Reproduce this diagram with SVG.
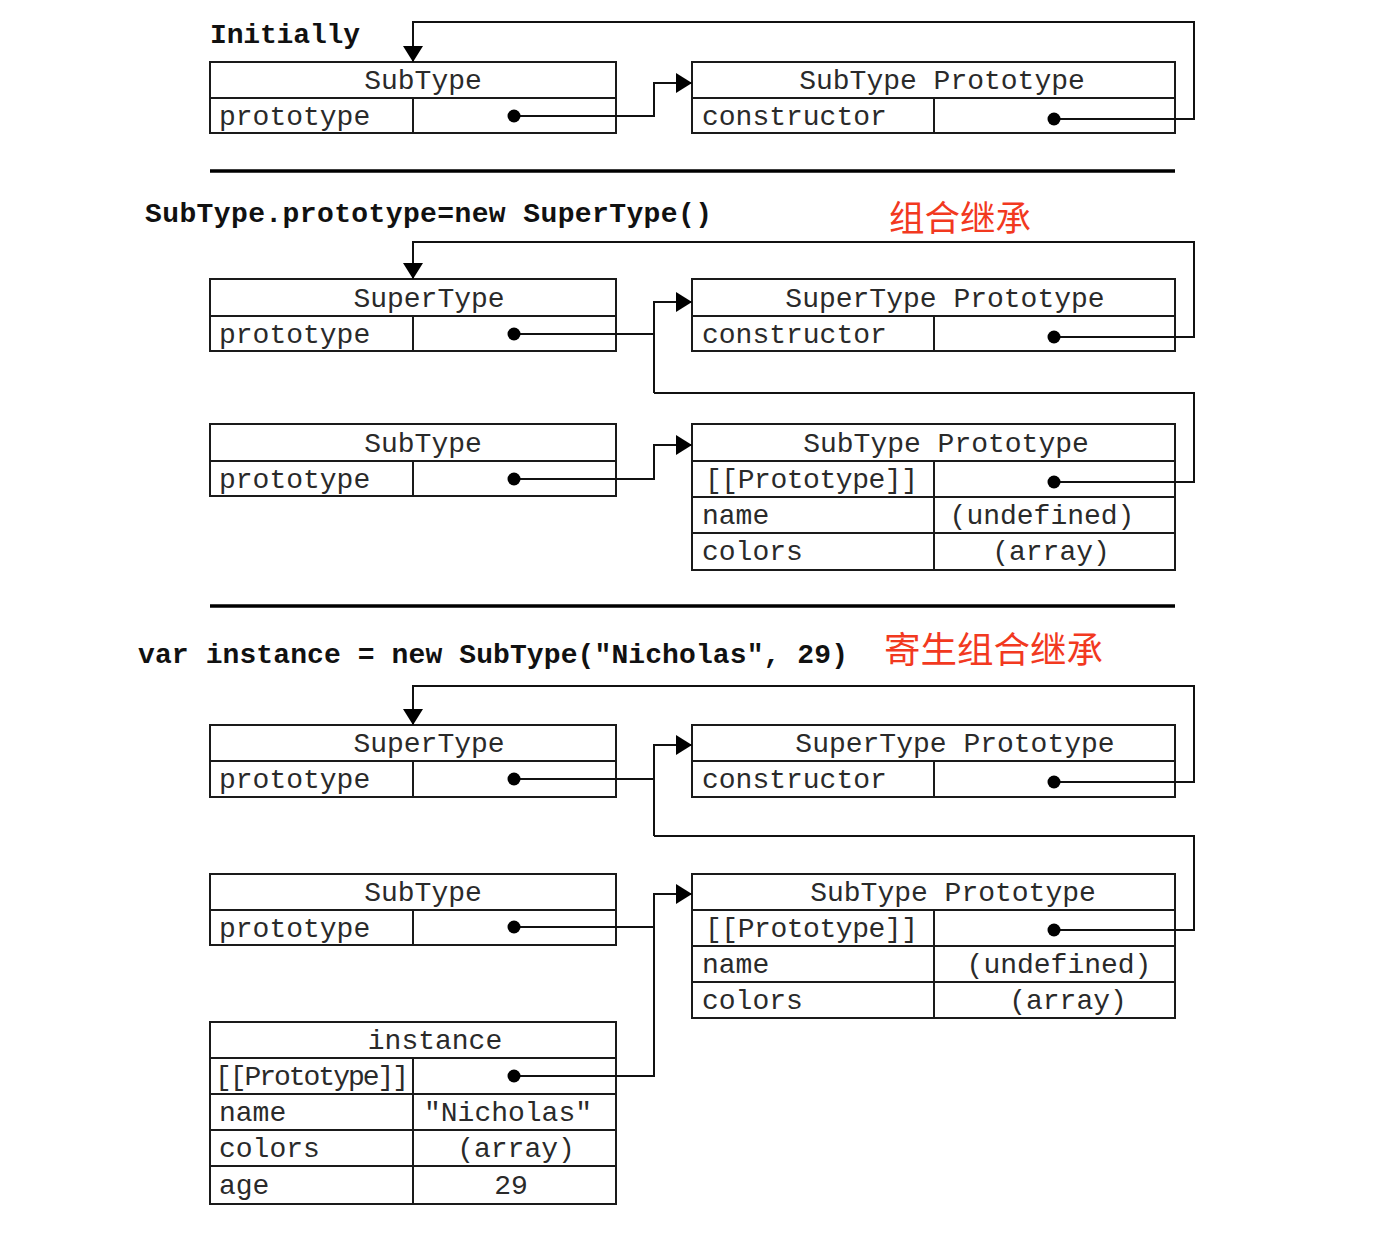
<svg xmlns="http://www.w3.org/2000/svg" width="1392" height="1236" viewBox="0 0 1392 1236">
<style>
.box{fill:#fff;stroke:#1a1a1a;stroke-width:2}
.div{stroke:#1a1a1a;stroke-width:2;fill:none}
.t{font-family:"Liberation Mono","Courier New",monospace;font-size:28px;fill:#2a2a2a}
.m{text-anchor:middle}
.h{font-family:"Liberation Mono","Courier New",monospace;font-size:28px;font-weight:bold;fill:#111}
.cn{font-family:"Noto Sans CJK SC",sans-serif;fill:#f2391f}
.c{fill:none;stroke:#111;stroke-width:2}
.dot{fill:#000}
.sep{stroke:#000;stroke-width:3.5}
</style>
<defs>
<marker id="a" markerUnits="userSpaceOnUse" markerWidth="16" markerHeight="20" refX="16" refY="10" orient="auto">
<path d="M0,0 L16,10 L0,20 z" fill="#000"/>
</marker>
</defs>

<rect width="1392" height="1236" fill="#fff"/>

<text class="h" x="210" y="43" textLength="150">Initially</text>
<text class="h" x="145" y="222" textLength="567">SubType.prototype=new SuperType()</text>
<text class="cn" x="889" y="231" font-size="35.5">组合继承</text>
<text class="h" x="138" y="663" textLength="710">var instance = new SubType("Nicholas", 29)</text>
<text class="cn" x="884" y="663" font-size="36.5">寄生组合继承</text>
<line class="sep" x1="210" y1="171" x2="1175" y2="171"/>
<line class="sep" x1="210" y1="606" x2="1175" y2="606"/>

<!-- Section 1 -->
<g id="s1-subtype">
<rect class="box" x="210" y="62" width="406" height="71"/>
<path class="div" d="M210 98H616M413 98V133"/>
<text class="t m" x="423" y="89">SubType</text>
<text class="t" x="219" y="125">prototype</text>
</g>
<g id="s1-subtype-proto">
<rect class="box" x="692" y="62" width="483" height="71"/>
<path class="div" d="M692 98H1175M934 98V133"/>
<text class="t m" x="942" y="89">SubType Prototype</text>
<text class="t" x="702" y="125">constructor</text>
</g>

<!-- Section 2 -->
<g id="s2-supertype">
<rect class="box" x="210" y="279" width="406" height="72"/>
<path class="div" d="M210 316H616M413 316V351"/>
<text class="t m" x="429" y="307">SuperType</text>
<text class="t" x="219" y="343">prototype</text>
</g>
<g id="s2-supertype-proto">
<rect class="box" x="692" y="279" width="483" height="72"/>
<path class="div" d="M692 316H1175M934 316V351"/>
<text class="t m" x="945" y="307">SuperType Prototype</text>
<text class="t" x="702" y="343">constructor</text>
</g>
<g id="s2-subtype">
<rect class="box" x="210" y="424" width="406" height="72"/>
<path class="div" d="M210 461H616M413 461V496"/>
<text class="t m" x="423" y="452">SubType</text>
<text class="t" x="219" y="488">prototype</text>
</g>
<g id="s2-subtype-proto">
<rect class="box" x="692" y="424" width="483" height="146"/>
<path class="div" d="M692 461H1175M692 497H1175M692 533H1175M934 461V570"/>
<text class="t m" x="946" y="452">SubType Prototype</text>
<text class="t" x="705" y="488" textLength="213">[[Prototype]]</text>
<text class="t" x="702" y="524">name</text>
<text class="t m" x="1042" y="524">(undefined)</text>
<text class="t" x="702" y="560">colors</text>
<text class="t m" x="1051" y="560">(array)</text>
</g>

<!-- Section 3 -->
<g id="s3-supertype">
<rect class="box" x="210" y="725" width="406" height="72"/>
<path class="div" d="M210 761H616M413 761V797"/>
<text class="t m" x="429" y="752">SuperType</text>
<text class="t" x="219" y="788">prototype</text>
</g>
<g id="s3-supertype-proto">
<rect class="box" x="692" y="725" width="483" height="72"/>
<path class="div" d="M692 761H1175M934 761V797"/>
<text class="t m" x="955" y="752">SuperType Prototype</text>
<text class="t" x="702" y="788">constructor</text>
</g>
<g id="s3-subtype">
<rect class="box" x="210" y="874" width="406" height="71"/>
<path class="div" d="M210 910H616M413 910V945"/>
<text class="t m" x="423" y="901">SubType</text>
<text class="t" x="219" y="937">prototype</text>
</g>
<g id="s3-subtype-proto">
<rect class="box" x="692" y="874" width="483" height="144"/>
<path class="div" d="M692 910H1175M692 946H1175M692 982H1175M934 910V1018"/>
<text class="t m" x="953" y="901">SubType Prototype</text>
<text class="t" x="705" y="937" textLength="213">[[Prototype]]</text>
<text class="t" x="702" y="973">name</text>
<text class="t m" x="1059" y="973">(undefined)</text>
<text class="t" x="702" y="1009">colors</text>
<text class="t m" x="1068" y="1009">(array)</text>
</g>
<g id="s3-instance">
<rect class="box" x="210" y="1022" width="406" height="182"/>
<path class="div" d="M210 1058H616M210 1094H616M210 1130H616M210 1166H616M413 1058V1204"/>
<text class="t m" x="435" y="1049">instance</text>
<text class="t" x="215" y="1085" font-size="25" textLength="194">[[Prototype]]</text>
<text class="t" x="219" y="1121">name</text>
<text class="t m" x="508" y="1121">"Nicholas"</text>
<text class="t" x="219" y="1157">colors</text>
<text class="t m" x="516" y="1157">(array)</text>
<text class="t" x="219" y="1194">age</text>
<text class="t m" x="511" y="1194">29</text>
</g>

<g id="connectors">
<!-- section 1 -->
<path class="c" d="M514 116H654V83H692" marker-end="url(#a)"/>
<path class="c" d="M1054 119H1194V22H413V62" marker-end="url(#a)"/>
<!-- section 2 -->
<path class="c" d="M514 334H654"/>
<path class="c" d="M654 393V302H692" marker-end="url(#a)"/>
<path class="c" d="M1054 337H1194V242H413V279" marker-end="url(#a)"/>
<path class="c" d="M1054 482H1194V393H654"/>
<path class="c" d="M514 479H654V445H692" marker-end="url(#a)"/>
<!-- section 3 -->
<path class="c" d="M514 779H654"/>
<path class="c" d="M654 836V745H692" marker-end="url(#a)"/>
<path class="c" d="M1054 782H1194V686H413V725" marker-end="url(#a)"/>
<path class="c" d="M1054 930H1194V836H654"/>
<path class="c" d="M514 927H654"/>
<path class="c" d="M514 1076H654V894H692" marker-end="url(#a)"/>
<circle class="dot" cx="514" cy="116" r="6.5"/>
<circle class="dot" cx="1054" cy="119" r="6.5"/>
<circle class="dot" cx="514" cy="334" r="6.5"/>
<circle class="dot" cx="1054" cy="337" r="6.5"/>
<circle class="dot" cx="514" cy="479" r="6.5"/>
<circle class="dot" cx="1054" cy="482" r="6.5"/>
<circle class="dot" cx="514" cy="779" r="6.5"/>
<circle class="dot" cx="1054" cy="782" r="6.5"/>
<circle class="dot" cx="514" cy="927" r="6.5"/>
<circle class="dot" cx="1054" cy="930" r="6.5"/>
<circle class="dot" cx="514" cy="1076" r="6.5"/>
</g>
</svg>
